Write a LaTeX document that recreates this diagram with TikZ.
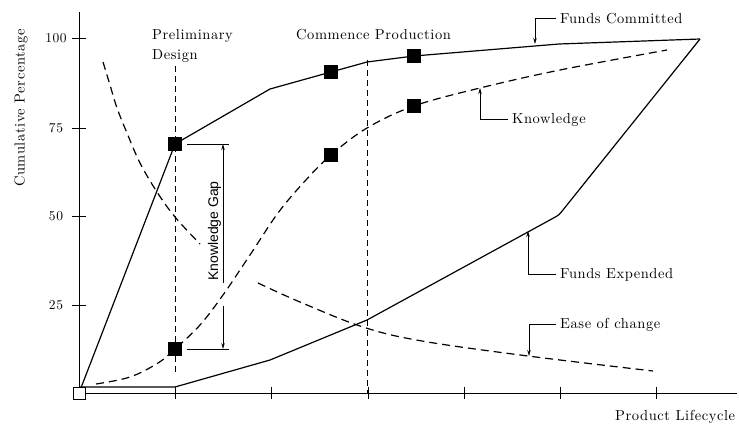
\documentclass[tikz,border=0pt]{standalone}
\usepackage{fontspec}
\newfontfamily\kgfont{Liberation Sans}
\newfontfamily\lblfam{lmroman10-regular.otf}[LetterSpace=4]
\usetikzlibrary{arrows.meta}
\newcommand\lblfont{\lblfam\fontsize{14.5}{16}\selectfont}
\newcommand\numfont{\lblfam\fontsize{13.5}{15}\selectfont}
\begin{document}
\begin{tikzpicture}[x=1pt,y=-1pt,
  axis/.style={line width=0.9pt},
  solidcurve/.style={line width=1.2pt,line join=round},
  dashcurve/.style={line width=1.2pt,dash pattern=on 8pt off 5pt},
  mile/.style={line width=0.8pt,dash pattern=on 6pt off 4pt},
  callout/.style={line width=0.8pt,-{Stealth[length=6pt,width=3.5pt]}},
  fsq/.style={draw=black,fill=black,minimum size=13pt,inner sep=0pt},
  osq/.style={draw=black,fill=white,line width=0.8pt,minimum size=12pt,inner sep=0pt},
  lbl/.style={font=\lblfont,inner sep=4pt},
  numlbl/.style={font=\numfont,inner sep=2pt},
  tick/.style={line width=0.9pt}]
\useasboundingbox (0,0) rectangle (739,426);
% axes
\coordinate (O) at (79,393);
\coordinate (ytop) at (79,12);
\coordinate (xend) at (737,393);
\draw[axis] (ytop) -- (O) -- (xend);
% y ticks
\foreach \yy/\tx in {38/100,128/75,216/50,305/25}{
  \coordinate (ytl\tx) at (72,\yy);
  \coordinate (ytr\tx) at (86,\yy);
  \draw[tick] (ytl\tx) -- (ytr\tx);
  \node[numlbl,anchor=center] (yl\tx) at (56,\yy) {\tx};
}
% x ticks
\foreach \xx in {175,271,368,464,560,656}{
  \coordinate (xtt\xx) at (\xx,387);
  \coordinate (xtb\xx) at (\xx,399);
  \draw[tick] (xtt\xx) -- (xtb\xx);
}
% axis labels
\node[lbl,rotate=90] (ylab) at (21,108) {Cumulative Percentage};
\node[lbl,anchor=base west] (xlab) at (611,420) {Product Lifecycle};
% milestones
\coordinate (pdTop) at (175,66);
\coordinate (pdBot) at (175,375);
\coordinate (cpTop) at (367,60);
\coordinate (cpBot) at (367,393);
\draw[mile] (pdTop) -- (pdBot);
\draw[mile] (cpTop) -- (cpBot);
\node[lbl,anchor=base west] (pd1) at (148,39) {Preliminary};
\node[lbl,anchor=base west] (pd2) at (148,59) {Design};
\node[lbl,anchor=base west] (cp) at (292,39) {Commence Production};
% Funds Committed
\draw[solidcurve] (O) -- (175,144) -- (270,89) -- (331,72) -- (367,62) -- (414,56) -- (559,44) -- (700,39);
% Funds Expended
\draw[solidcurve] (79,387) -- (175,387) -- (270,360) -- (367,320) -- (553.7,217.9) .. controls (559,215) .. (562.7,210.3) -- (700,39);
% Knowledge
\draw[dashcurve] plot[smooth,tension=0.6] coordinates {(96,384) (130,377) (158,363) (175,349) (200,325) (223,295) (250,255) (278,213) (305,181) (331,155) (367,128) (414,106) (480,88) (560,70) (667,50)};
% Ease of change
\draw[dashcurve] plot[smooth,tension=0.6] coordinates {(103,62) (110,85) (117,108) (127,133) (140,163) (157,192) (175,217) (200,244)};
\draw[dashcurve] plot[smooth,tension=0.6] coordinates {(258,283) (300,302) (363,327) (422,341) (528,356) (653,371)};
% squares
\node[fsq] (c1) at (175,144) {};
\node[fsq] (c2) at (331,72) {};
\node[fsq] (c3) at (414,56) {};
\node[fsq] (k1) at (175,349) {};
\node[fsq] (k2) at (331,155) {};
\node[fsq] (k3) at (414,106) {};
\node[osq] (orig) at (79,393) {};
% knowledge gap
\coordinate (kgL1) at (187,144);
\coordinate (kgR1) at (229,144);
\coordinate (kgL2) at (187,349);
\coordinate (kgR2) at (229,349);
\draw[line width=0.8pt] (kgL1) -- (kgR1);
\draw[line width=0.8pt] (kgL2) -- (kgR2);
\coordinate (kgTop) at (223,144);
\coordinate (kgA) at (223,283);
\coordinate (kgB) at (223,306);
\coordinate (kgBot) at (223,349);
\draw[callout] (kgA) -- (kgTop);
\draw[callout] (kgB) -- (kgBot);
\node[font=\kgfont\fontsize{14}{16}\selectfont,rotate=90,inner sep=1pt] (kgl) at (214.5,231) {Knowledge Gap};
% callouts
\node[lbl,anchor=base west] (fcl) at (556,23) {Funds Committed};
\coordinate (fcTip) at (535,44);
\draw[callout] (fcl.west) -| (fcTip);
\node[lbl,anchor=base west] (kl) at (508,123) {Knowledge};
\coordinate (klTip) at (480,88);
\draw[callout] (kl.west) -| (klTip);
\node[lbl,anchor=base west] (fel) at (556,278) {Funds Expended};
\coordinate (feTip) at (528,231);
\draw[callout] (fel.west) -| (feTip);
\node[lbl,anchor=base west] (ecl) at (556,328) {Ease of change};
\coordinate (ecTip) at (529,356);
\draw[callout] (ecl.west) -| (ecTip);
\end{tikzpicture}
\end{document}
